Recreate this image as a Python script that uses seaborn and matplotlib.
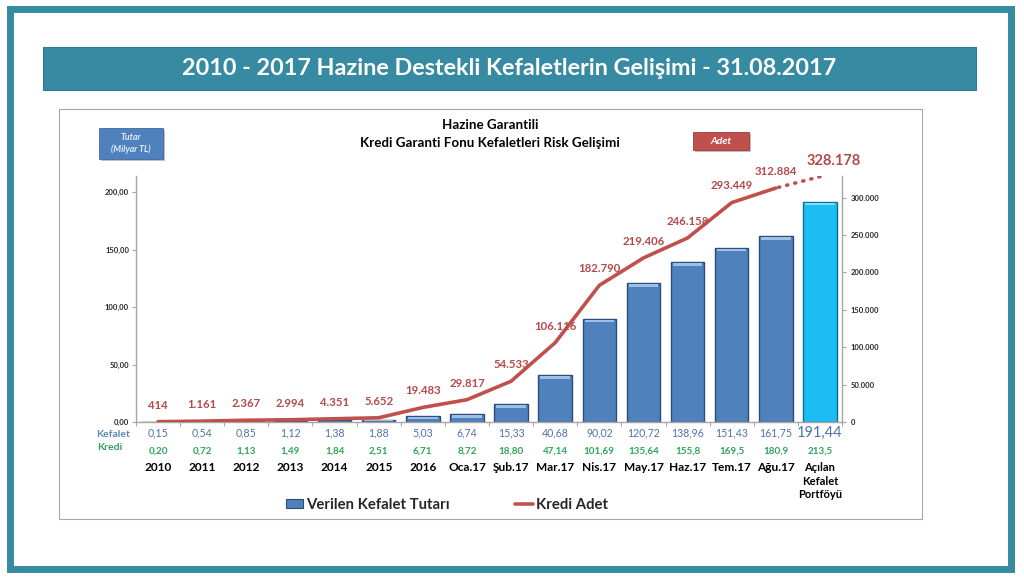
import numpy as np
import pandas as pd
import matplotlib.pyplot as plt
import matplotlib.patches as mpatches
from matplotlib.lines import Line2D
import seaborn as sns

# Data
categories = ['2010', '2011', '2012', '2013', '2014', '2015', '2016', 'Oca.17', 'Şub.17',
              'Mar.17', 'Nis.17', 'May.17', 'Haz.17', 'Tem.17', 'Ağu.17',
              'Açılan\nKefalet\nPortföyü']
kefalet = [0.15, 0.54, 0.85, 1.12, 1.38, 1.88, 5.03, 6.74, 15.33, 40.68, 90.02,
           120.72, 138.96, 151.43, 161.75, 191.44]
kredi_text = ['0,20', '0,72', '1,13', '1,49', '1,84', '2,51', '6,71', '8,72', '18,80',
              '47,14', '101,69', '135,64', '155,8', '169,5', '180,9', '213,5']
kredi_adet = [414, 1161, 2367, 2994, 4351, 5652, 19483, 29817, 54533, 106116,
              182790, 219406, 246158, 293449, 312884]
portfoy_adet = 328178
left_ticks = [0, 50, 100, 150, 200]
right_ticks = [0, 50000, 100000, 150000, 200000, 250000, 300000]

TEAL = '#368AA1'
BLUE = '#4F81BD'
CYAN = '#1CBDF2'
RED = '#C0504D'
RED_TXT = '#B5494A'
KEF_TXT = '#4E72AC'
KRE_TXT = '#2DA55A'


def tr_int(v):
    return f"{v:,}".replace(',', '.')


sns.set_theme(style='white')
plt.rcParams['font.family'] = ['Lato', 'DejaVu Sans']

fig = plt.figure(figsize=(10.24, 5.78), dpi=100)

# outer frame, title banner and chart panel
fig.add_artist(mpatches.Rectangle((9.5 / 1024, 9.5 / 578), 1001.5 / 1024, 560 / 578,
                                  transform=fig.transFigure, fill=False,
                                  edgecolor=TEAL, linewidth=5, zorder=-2))
fig.add_artist(mpatches.Rectangle((0.042, 0.8443), 0.911, 0.0744, transform=fig.transFigure,
                                  facecolor=TEAL, edgecolor='#2F7A8F', linewidth=0.8, zorder=-2))
fig.text(0.4976, 0.881, '2010 - 2017 Hazine Destekli Kefaletlerin Gelişimi - 31.08.2017',
         ha='center', va='center', color='white', fontsize=16.8, fontweight='bold')
fig.add_artist(mpatches.Rectangle((0.0576, 0.102), 0.8428, 0.7094, transform=fig.transFigure,
                                  facecolor='white', edgecolor='#A6A6A6', linewidth=0.8,
                                  zorder=-1))

# chart title and axis badges
fig.text(0.4785, 0.7837, 'Hazine Garantili', ha='center', va='center',
         fontsize=9.6, fontweight='bold', color='black')
fig.text(0.4785, 0.7526, 'Kredi Garanti Fonu Kefaletleri Risk Gelişimi', ha='center',
         va='center', fontsize=9.6, fontweight='bold', color='black')
fig.add_artist(mpatches.Rectangle((0.0987, 0.7215), 0.0625, 0.0536, transform=fig.transFigure,
                                  facecolor='#BFBFBF', edgecolor='none', zorder=-1))
fig.add_artist(mpatches.Rectangle((0.0967, 0.7249), 0.0625, 0.0536, transform=fig.transFigure,
                                  facecolor=BLUE, edgecolor='#3E6A9E', linewidth=0.6))
fig.text(0.1279, 0.7517, 'Tutar\n(Milyar TL)', ha='center', va='center', fontsize=6.3,
         color='#E4ECF7', fontstyle='italic', fontweight='bold', linespacing=1.3)
fig.add_artist(mpatches.Rectangle((0.6788, 0.7371), 0.0547, 0.0311, transform=fig.transFigure,
                                  facecolor='#BFBFBF', edgecolor='none', zorder=-1))
fig.add_artist(mpatches.Rectangle((0.6768, 0.7405), 0.0547, 0.0311, transform=fig.transFigure,
                                  facecolor=RED, edgecolor='#9E3B39', linewidth=0.6))
fig.text(0.7041, 0.756, 'Adet', ha='center', va='center', fontsize=7.5,
         color='white', fontstyle='italic', fontweight='bold')

# bars (left axis)
ax = fig.add_axes([0.1328, 0.2699, 0.6895, 0.4256])
ax.set_facecolor('none')
df = pd.DataFrame({'kategori': categories, 'tutar': kefalet})
bar_colors = [BLUE] * (len(categories) - 1) + [CYAN]
sns.barplot(data=df, x='kategori', y='tutar', hue='kategori', palette=bar_colors,
            legend=False, width=0.76, saturation=1, ax=ax)
for i, p in enumerate(ax.patches):
    last = i == len(categories) - 1
    p.set_edgecolor('#0E6F91' if last else '#2C4D75')
    p.set_linewidth(1.0)
    # light bevel on top of each bar
    h = min(p.get_height() * 0.35, 2.2)
    ax.add_patch(mpatches.Rectangle((p.get_x() + p.get_width() * 0.06, p.get_height() - h * 1.4),
                                    p.get_width() * 0.88, h,
                                    facecolor='#7FDDFB' if last else '#9DBEE6',
                                    edgecolor='none', zorder=3))

ax.set_xlim(-0.5, len(categories) - 0.5)
ax.set_ylim(0, 214)
ax.set_xlabel('')
ax.set_ylabel('')
ax.set_xticks([])
ax.set_xticks(np.arange(-0.5, len(categories), 1), minor=True)
ax.set_yticks(left_ticks)
ax.set_yticklabels([f"{t:.2f}".replace('.', ',') for t in left_ticks])
ax.tick_params(axis='y', length=3, width=0.8, color='#A6A6A6', labelsize=5.5, pad=2,
               left=True)
ax.tick_params(axis='x', which='minor', length=3, width=0.8, color='#A6A6A6', bottom=True)
for lab in ax.get_yticklabels():
    lab.set_fontweight('bold')
for s in ['top', 'right']:
    ax.spines[s].set_visible(False)
for s in ['left', 'bottom']:
    ax.spines[s].set_color('#A6A6A6')
    ax.spines[s].set_linewidth(1)

# line (right axis)
ax2 = ax.twinx()
x_line = np.arange(len(kredi_adet))
sns.lineplot(x=x_line, y=kredi_adet, ax=ax2, color=RED, linewidth=2.6)
ax2.plot([x_line[-1], x_line[-1] + 1], [kredi_adet[-1], portfoy_adet], color=RED,
         linewidth=2.6, linestyle=(1.5, (0.3, 2.0)), dash_capstyle='round')
ax2.set_ylim(0, 329000)
ax2.set_yticks(right_ticks)
ax2.set_yticklabels([tr_int(t) for t in right_ticks])
ax2.tick_params(axis='y', length=3, width=0.8, color='#A6A6A6', labelsize=5.5, pad=3,
                right=True)
for lab in ax2.get_yticklabels():
    lab.set_fontweight('bold')
for s in ['top', 'left', 'bottom']:
    ax2.spines[s].set_visible(False)
ax2.spines['right'].set_color('#A6A6A6')
ax2.spines['right'].set_linewidth(1)

for x, v in zip(x_line, kredi_adet):
    ax2.annotate(tr_int(v), (x, v), xytext=(0, 8), textcoords='offset points',
                 ha='center', va='bottom', fontsize=8.2, fontweight='bold', color=RED_TXT)
ax2.annotate(tr_int(portfoy_adet), (x_line[-1] + 1, portfoy_adet), xytext=(10, 6),
             textcoords='offset points', ha='center', va='bottom', fontsize=10.5,
             fontweight='bold', color=RED_TXT)

# data table under the axis
trans = ax.get_xaxis_transform()
for i, v in enumerate(kefalet):
    last = i == len(kefalet) - 1
    ax.text(i, -0.045, f"{v:.2f}".replace('.', ','), transform=trans, ha='center',
            va='center', fontsize=10.5 if last else 7.6, color=KEF_TXT)
for i, t in enumerate(kredi_text):
    ax.text(i, -0.118, t, transform=trans, ha='center', va='center', fontsize=7.1,
            fontweight='bold', color=KRE_TXT)
for i, c in enumerate(categories):
    last = i == len(categories) - 1
    ax.text(i, -0.163, c, transform=trans, ha='center', va='top',
            fontsize=8 if last else 8.6, fontweight='bold', color='black', linespacing=1.3)
ax.text(-0.033, -0.052, 'Kefalet', transform=ax.transAxes, ha='center', va='center',
        fontsize=7.5, fontweight='bold', color='#5A86B8')
ax.text(-0.037, -0.105, 'Kredi', transform=ax.transAxes, ha='center', va='center',
        fontsize=7.5, fontweight='bold', color=KRE_TXT)

# legend
handles = [mpatches.Patch(facecolor=BLUE, edgecolor='#2C4D75', linewidth=0.8),
           Line2D([0], [0], color=RED, linewidth=2.6)]
fig.legend(handles, ['Verilen Kefalet Tutarı', 'Kredi Adet'], loc='center',
           bbox_to_anchor=(0.4365, 0.1263), ncol=2, frameon=False,
           prop={'size': 10.7, 'weight': 'bold'}, handlelength=1.2, handleheight=0.6,
           handletextpad=0.2, columnspacing=4.4)

fig.savefig('out.png', dpi=100)
